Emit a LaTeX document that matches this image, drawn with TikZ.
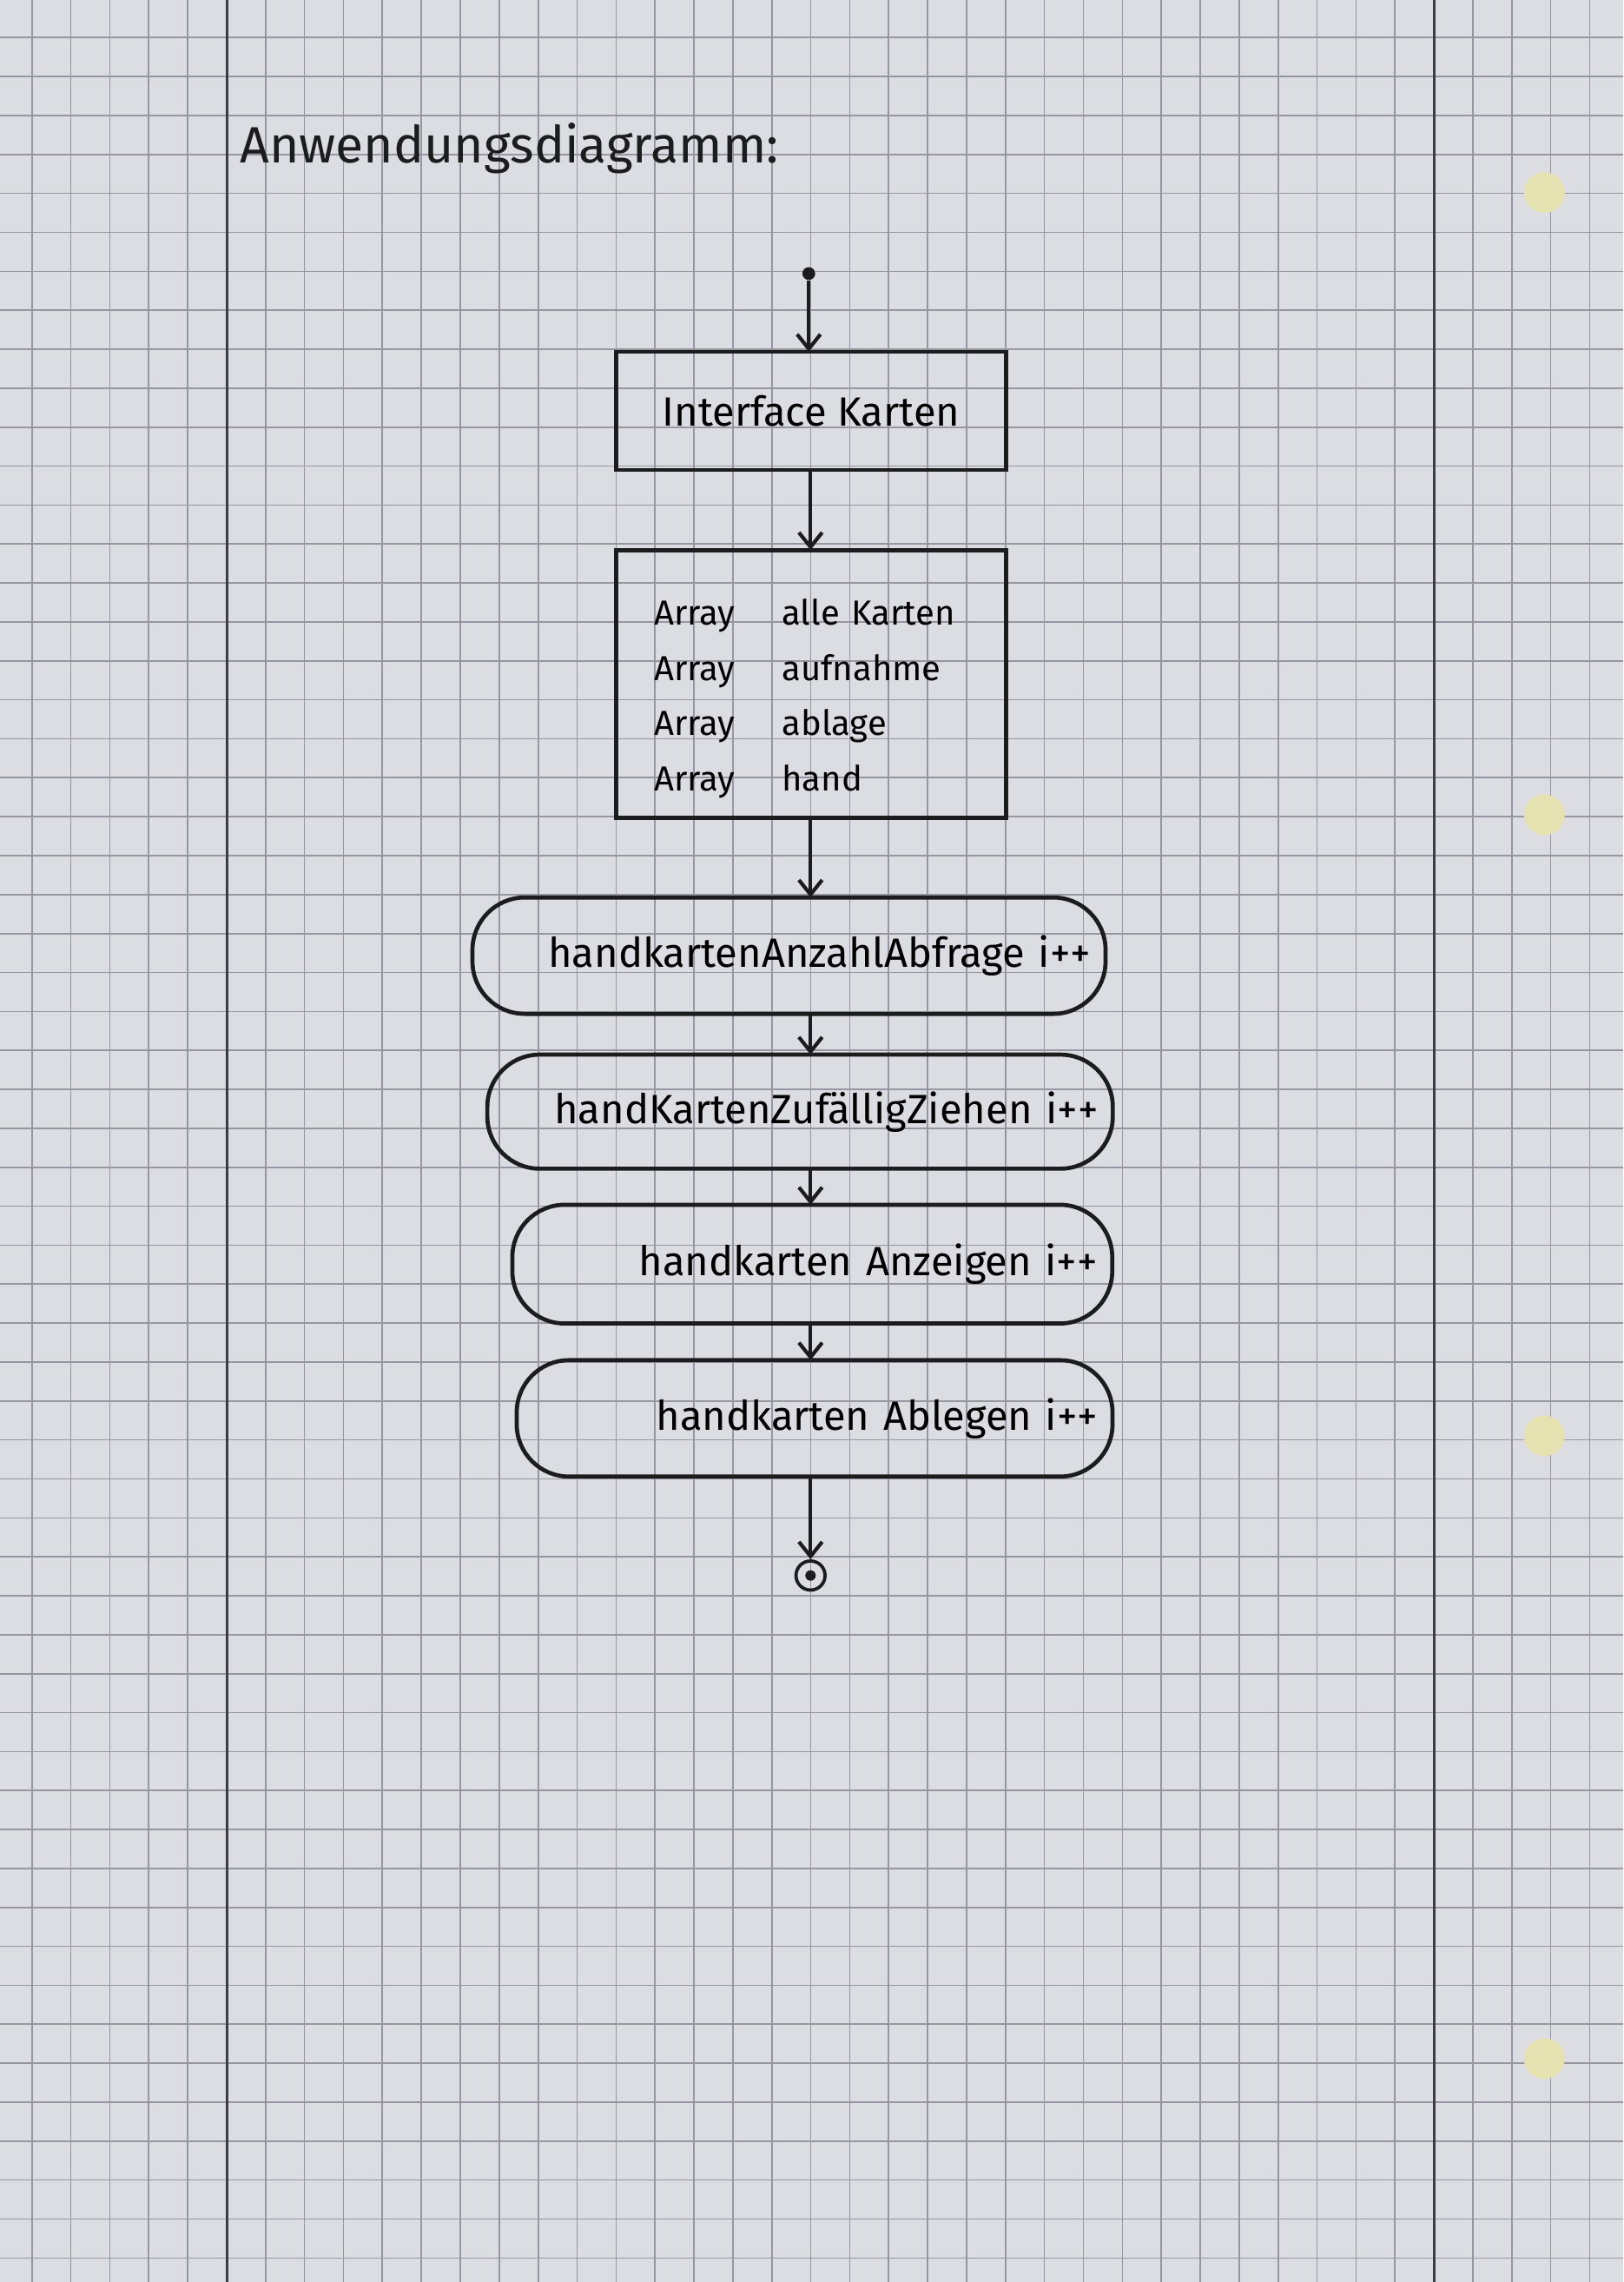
\documentclass[tikz,border=0pt]{standalone}
\usepackage{fontspec}
\setmainfont{Fira Sans}
\usetikzlibrary{arrows.meta}
\definecolor{paper}{RGB}{220,220,227}
\definecolor{gridgray}{RGB}{150,150,162}
\definecolor{margingray}{RGB}{60,60,70}
\definecolor{ink}{RGB}{28,28,30}
\definecolor{hole}{RGB}{229,225,176}
\begin{document}
\begin{tikzpicture}
		[box/.style={draw=ink,line width=2pt,outer sep=0pt,inner sep=0pt},
		 act/.style={box,rounded corners=0.9cm,minimum height=2cm,inner xsep=0.25cm,align=right,font=\fontsize{20}{23}\selectfont},
		 flow/.style={draw=ink,line width=1.8pt,-{Straight Barb[length=2.5mm,width=4mm,line width=1.8pt]}},
		 gridline/.style={draw=gridgray,line width=0.7pt},
		 margin/.style={draw=margingray,line width=1.2pt}]
		\useasboundingbox (0,0) rectangle (27.896,-39.209);

		% paper
		\fill[paper] (0,0) rectangle (27.896,-39.209);
		\draw[gridline,step=0.6693cm,shift={(0.548,-0.646)}] (-0.548,0.646) grid (27.35,-38.56);
		\draw[margin] (3.906,0) -- (3.906,-39.209);
		\draw[margin] (24.652,0) -- (24.652,-39.209);
		\foreach \y in {-3.31,-14.0,-24.67,-35.37}
			\fill[hole] (26.54,\y) circle (0.35);

		\node[anchor=base west,font=\fontsize{25}{28}\selectfont,text=ink] (title) at (4.0,-2.8) {Anwendungsdiagramm:};

		\coordinate (col) at (13.93,0);
		\node[circle,fill=ink,inner sep=0pt,minimum size=0.22cm] (start) at (13.9,-4.70) {};
		\node[box,minimum width=6.7cm,minimum height=2.03cm,font=\fontsize{20}{23}\selectfont] (iface) at (13.94,-7.06) {Interface Karten};
		\node[box,minimum height=4.6cm,inner xsep=0.65cm,text width=5.4cm,align=left,font=\fontsize{17}{27}\selectfont] (arrays) at (13.94,-11.75)
			{\rule{0pt}{0.95cm}\makebox[2.2cm][l]{Array}alle Karten\\
			 \makebox[2.2cm][l]{Array}aufnahme\\
			 \makebox[2.2cm][l]{Array}ablage\\
			 \makebox[2.2cm][l]{Array}hand};
		\node[act,text width=10.38cm] (anzahl) at (13.56,-16.42) {handkartenAnzahlAbfrage i++};
		\node[act,text width=10.25cm,minimum height=1.96cm] (ziehen) at (13.75,-19.10) {handKartenZufälligZiehen i++};
		\node[act,text width=9.81cm,minimum height=2.04cm] (anzeigen) at (13.96,-21.72) {handkarten Anzeigen i++};
		\node[act,text width=9.74cm] (ablegen) at (14.0,-24.37) {handkarten Ablegen i++};
		\node[circle,draw=ink,line width=1.6pt,inner sep=0pt,minimum size=0.5cm] (stop) at (13.93,-27.07) {};
		\fill[ink] (stop) circle (0.09);

		\draw[flow] (start) -- (start |- iface.north);
		\draw[flow] (iface.south -| col) -- (arrays.north -| col);
		\draw[flow] (arrays.south -| col) -- (anzahl.north -| col);
		\draw[flow] (anzahl.south -| col) -- (ziehen.north -| col);
		\draw[flow] (ziehen.south -| col) -- (anzeigen.north -| col);
		\draw[flow] (anzeigen.south -| col) -- (ablegen.north -| col);
		\draw[flow] (ablegen.south -| col) -- (stop);
	\end{tikzpicture}
\end{document}
